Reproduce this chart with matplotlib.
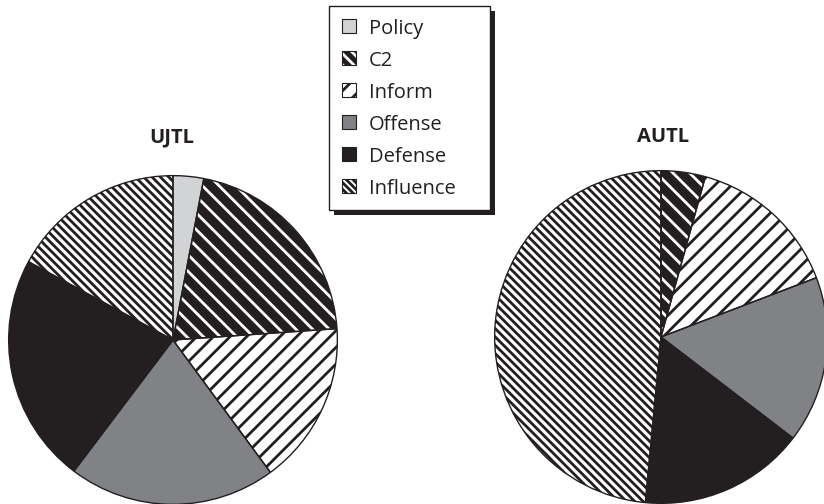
"""Two pie charts (UJTL vs AUTL) with hatched wedges and a shared legend."""
import matplotlib
matplotlib.use("Agg")
import matplotlib.pyplot as plt
from matplotlib.patches import Rectangle

plt.rcParams["font.family"] = ["Open Sans", "DejaVu Sans"]
plt.rcParams["hatch.linewidth"] = 2.0

categories = ["Policy", "C2", "Inform", "Offense", "Defense", "Influence"]
ujtl = [3.0, 20.9, 16.0, 20.4, 22.6, 17.1]
autl = [0.0, 4.3, 14.9, 16.2, 16.1, 48.5]

# fill, hatch colour, hatch pattern per category
faces = ["#d1d3d4", "#231f20", "white", "#808285", "#231f20", "white"]
hatch_cols = ["#d1d3d4", "white", "#231f20", "#808285", "#231f20", "#231f20"]
hatches = [None, "\\\\", "//", None, None, "\\\\\\\\"]
legend_hatches = [None, "\\\\\\", "//", None, None, "\\\\\\\\\\"]

INK = "#231f20"
W, H = 824, 504
fig = plt.figure(figsize=(W / 100, H / 100), dpi=100)


def pie_axes(cx, cy, r):
    # cx, cy, r in pixels (y measured from top)
    return fig.add_axes([(cx - r) / W, (H - cy - r) / H, 2 * r / W, 2 * r / H])


def draw_pie(ax, values):
    wedges, _ = ax.pie(values, startangle=90, counterclock=False, radius=1,
                       wedgeprops=dict(linewidth=0))
    for w, fc, hc, h in zip(wedges, faces, hatch_cols, hatches):
        w.set_facecolor(fc)
        w.set_edgecolor(hc)
        w.set_linewidth(0)
        if h:
            w.set_hatch(h)
    # outlines on top
    ax.pie(values, startangle=90, counterclock=False, radius=1,
           colors=["none"] * len(values),
           wedgeprops=dict(edgecolor=INK, linewidth=1.0))
    ax.set_xlim(-1.01, 1.01)
    ax.set_ylim(-1.01, 1.01)
    ax.set_aspect("equal")
    ax.axis("off")


ax1 = pie_axes(173, 340, 166)
draw_pie(ax1, ujtl)
ax2 = pie_axes(661, 337, 168)
draw_pie(ax2, autl)

# overlay in pixel units (y down) for titles and the boxed legend
ov = fig.add_axes([0, 0, 1, 1])
ov.set_xlim(0, W)
ov.set_ylim(H, 0)
ov.axis("off")

ov.text(172, 137, "UJTL", ha="center", va="center",
        fontsize=14.5, fontweight="bold", color=INK)
ov.text(663, 137, "AUTL", ha="center", va="center",
        fontsize=14.5, fontweight="bold", color=INK)

bx0, by0, bx1, by1 = 329.5, 5.5, 490.5, 209.5
ov.add_patch(Rectangle((bx0 + 5, by0 + 5), bx1 - bx0, by1 - by0,
                       facecolor=INK, edgecolor="none"))
ov.add_patch(Rectangle((bx0, by0), bx1 - bx0, by1 - by0,
                       facecolor="white", edgecolor=INK, linewidth=1.0))
for i, (lab, fc, hc, h) in enumerate(zip(categories, faces, hatch_cols,
                                         legend_hatches)):
    cy = 26 + 32 * i
    ov.add_patch(Rectangle((342, cy - 7), 14, 14, facecolor=fc,
                           edgecolor=hc, hatch=h, linewidth=0))
    ov.add_patch(Rectangle((342, cy - 7), 14, 14, facecolor="none",
                           edgecolor=INK, linewidth=0.8))
    ov.text(369, cy + 8, lab, ha="left", va="baseline",
            fontsize=14.5, color=INK)

fig.savefig("out.png", dpi=100, facecolor="white")
